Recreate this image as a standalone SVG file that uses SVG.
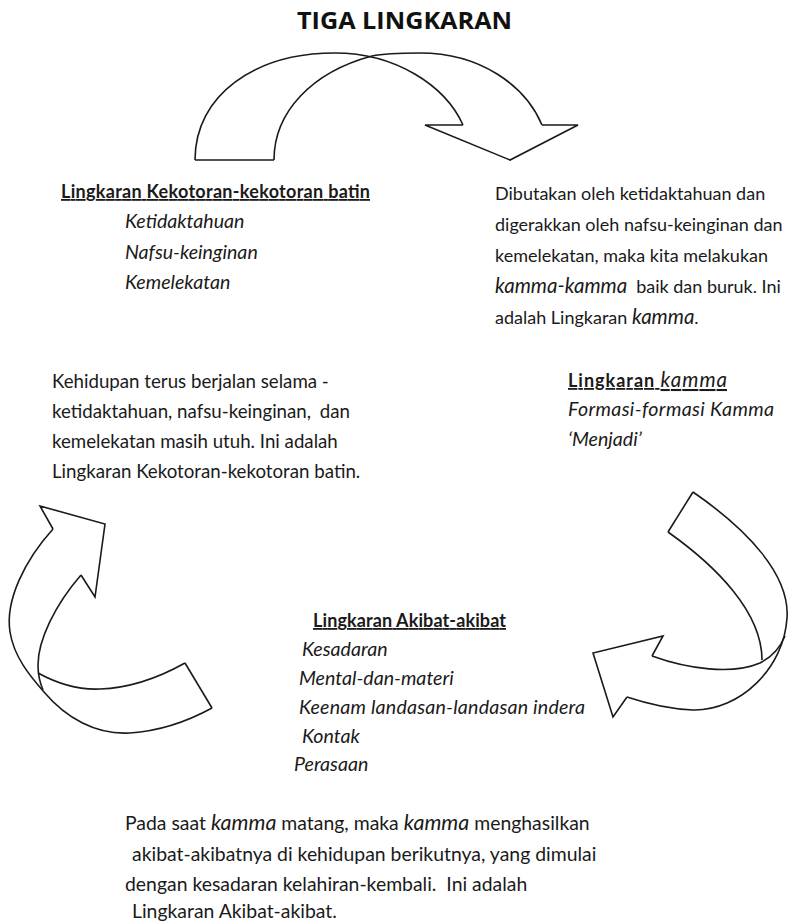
<svg xmlns="http://www.w3.org/2000/svg" width="805" height="922" viewBox="0 0 805 922">
  <style>
    .t { font-family: Lato, "Open Sans", "Liberation Sans", sans-serif; font-size: 18px; fill: #1a1a1a; }
    .h { font-weight: bold; text-decoration: underline; }
    .i { font-style: italic; font-size: 19.6px; }
    .mid { font-size: 18.7px; }
    .big { font-size: 19.4px; }
    .k { font-style: italic; font-size: 20.5px; }
    .kb { font-style: italic; font-size: 21.5px; }
    .title { font-family: "Open Sans", "Liberation Sans", sans-serif; font-size: 24px; font-weight: bold; fill: #111; }
    .arrow path { fill: none; stroke: #1a1a1a; stroke-width: 1.6; stroke-linejoin: miter; }
  </style>
  <rect width="805" height="922" fill="#fff"/>

  <text class="title" x="297" y="29" textLength="215" lengthAdjust="spacingAndGlyphs">TIGA LINGKARAN</text>

  <g id="connectors">
    <!-- top twisted arrow -->
    <g id="arrow-top" class="arrow">
      <path d="M195,160 L274,160"/>
      <path d="M195,160 C195,95 255,53 335,53 C395,53 445,85 463,125"/>
      <path d="M274,160 C274,112 312,72 372,56 C386,53 400,53 420,53 C480,53 525,85 542,125"/>
      <path d="M463,125 L425,125 L510,160 L578,125 L542,125"/>
    </g>
    <!-- right twisted arrow -->
    <g id="arrow-right" class="arrow">
      <path d="M693,492 L668,532"/>
      <path d="M693,492 C748,530 790,575 787,618 C784,668 740,711 693,710 C668,709 645,703 627,697"/>
      <path d="M668,532 C716,566 762,612 762,660"/>
      <path d="M652,656 C688,669 732,675 760,663 C772,657 780,648 785,636"/>
      <path d="M652,656 L663,636 L593,653 L613,717 L627,697"/>
    </g>
    <!-- left twisted arrow -->
    <g id="arrow-left" class="arrow">
      <path d="M185,663 L212,708"/>
      <path d="M53,529 C25,560 5,600 10,632 C14,657 30,676 44,692 C66,718 96,735 130,733 C160,731 190,720 212,708"/>
      <path d="M81,575 C55,605 38,640 38,665 C38,675 40,683 43,690"/>
      <path d="M38,673 C60,685 80,690 100,689 C130,688 160,677 185,663"/>
      <path d="M53,529 L40,506 L105,524 L95,597 L81,575"/>
    </g>
  </g>

  <g id="node-kekotoran">
    <text class="t h" x="61" y="198" textLength="309">Lingkaran Kekotoran-kekotoran batin</text>
    <text class="t i" x="125" y="228">Ketidaktahuan</text>
    <text class="t i" x="125" y="259">Nafsu-keinginan</text>
    <text class="t i" x="125" y="289">Kemelekatan</text>
  </g>

  <g id="node-kamma-desc">
    <text class="t" x="495" y="200">Dibutakan oleh ketidaktahuan dan</text>
    <text class="t" x="495" y="231">digerakkan oleh nafsu-keinginan dan</text>
    <text class="t" x="495" y="262">kemelekatan, maka kita melakukan</text>
    <text class="t" x="495" y="293"><tspan class="k">kamma-kamma</tspan><tspan dx="9">baik dan buruk. Ini</tspan></text>
    <text class="t" x="495" y="324">adalah Lingkaran <tspan class="k">kamma</tspan>.</text>
  </g>

  <g id="node-kekotoran-desc">
    <text class="t mid" x="52" y="388">Kehidupan terus berjalan selama -</text>
    <text class="t mid" x="52" y="418">ketidaktahuan, nafsu-keinginan, <tspan dx="4">dan</tspan></text>
    <text class="t mid" x="52" y="448">kemelekatan masih utuh. Ini adalah</text>
    <text class="t mid" x="52" y="478">Lingkaran Kekotoran-kekotoran batin.</text>
  </g>

  <g id="node-kamma">
    <text class="t h" x="568" y="387" textLength="159">Lingkaran <tspan class="k" font-weight="normal" font-size="21px">kamma</tspan></text>
    <text class="t i" x="568" y="416" textLength="206">Formasi-formasi Kamma</text>
    <text class="t i" x="568" y="446">‘Menjadi’</text>
  </g>

  <g id="node-akibat">
    <text class="t h" x="313" y="627" textLength="193">Lingkaran Akibat-akibat</text>
    <text class="t i" x="302" y="656">Kesadaran</text>
    <text class="t i" x="299" y="685">Mental-dan-materi</text>
    <text class="t i" x="299" y="714" textLength="286">Keenam landasan-landasan indera</text>
    <text class="t i" x="302" y="743">Kontak</text>
    <text class="t i" x="294" y="771">Perasaan</text>
  </g>

  <g id="node-akibat-desc">
    <text class="t big" x="125" y="830">Pada saat <tspan class="kb">kamma</tspan> matang, maka <tspan class="kb">kamma</tspan> menghasilkan</text>
    <text class="t big" x="132" y="861">akibat-akibatnya di kehidupan berikutnya, yang dimulai</text>
    <text class="t big" x="125" y="891">dengan kesadaran kelahiran-kembali. <tspan dx="5">Ini adalah</tspan></text>
    <text class="t big" x="132" y="918">Lingkaran Akibat-akibat.</text>
  </g>
</svg>
